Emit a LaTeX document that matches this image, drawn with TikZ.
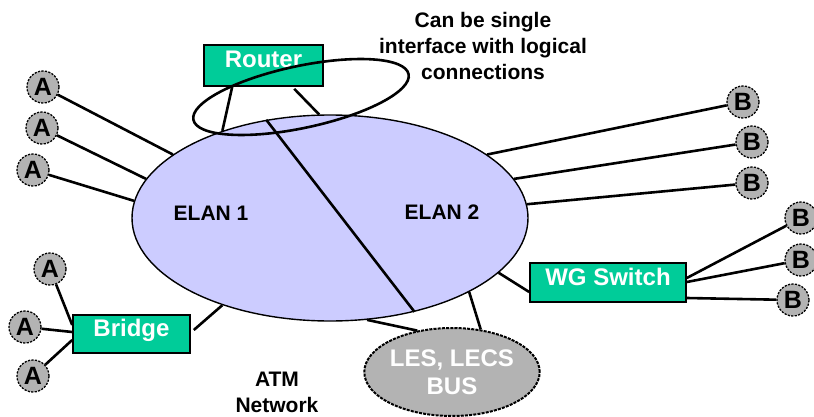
\documentclass[tikz,border=0pt]{standalone}
\usepackage{fontspec}
\setmainfont{Liberation Sans}
\usetikzlibrary{shapes.geometric,calc}
\definecolor{elanfill}{HTML}{CCCCFF}
\definecolor{boxgreen}{HTML}{00CC99}
\definecolor{hostgray}{HTML}{B3B3B3}
\begin{document}
\begin{tikzpicture}[x=1pt,y=-1pt,
  host/.style={circle, draw=black, fill=hostgray, line width=1.3pt,
    dash pattern=on 2.2pt off 1.3pt, minimum size=32pt, inner sep=0pt,
    font=\fontsize{25}{25}\selectfont\bfseries},
  device/.style={rectangle, draw=black, fill=boxgreen, line width=1.6pt,
    inner sep=0pt, text=white, text depth=12pt,
    font=\fontsize{24}{24}\selectfont\bfseries},
  link/.style={line width=2.6pt, black},
  caption/.style={font=\fontsize{21}{26}\selectfont\bfseries, align=center}
]
\useasboundingbox (0,0) rectangle (814,417);

% the emulated LAN cloud, split into two ELANs
\node[ellipse, draw=black, fill=elanfill, line width=1.4pt, inner sep=0pt,
      minimum width=396pt, minimum height=206pt] (elan) at (330,218) {};
\draw[link] (elan.123.8) -- (elan.-48.6);
\node[caption] (elan1) at (211,213) {ELAN 1};
\node[caption] (elan2) at (442,212) {ELAN 2};

% router and its two logical attachments
\node[device, minimum width=119pt, minimum height=41pt] (router) at (263.5,65.5) {Router};
\draw[link] ($(router.south west)+(29,0)$) -- (elan.141.2);
\draw[link] ($(router.south west)+(91,2)$) -- (elan.96.1);
\node[ellipse, draw=black, line width=2.6pt, inner sep=0pt, rotate=12,
      minimum width=220pt, minimum height=62pt] (iface) at (301,97) {};
\node[caption] (note) at (483,46) {Can be single\\interface with logical\\connections};

% hosts of ELAN 1
\node[host] (a1) at (43,87) {A};
\node[host] (a2) at (42,128) {A};
\node[host] (a3) at (33,170) {A};
\draw[link] (a1) -- (elan.158.8);
\draw[link] (a2) -- (elan.168.8);
\draw[link] (a3) -- (elan.175.4);

% bridge with its hosts
\node[device, minimum width=117pt, minimum height=38pt] (bridge) at (131.5,334) {Bridge};
\node[host] (a4) at (50,269) {A};
\node[host] (a5) at (25,327) {A};
\node[host] (a6) at (33,376) {A};
\draw[link] (a4) -- ($(bridge.west)+(0,-9)$);
\draw[link] (a5) -- ($(bridge.west)+(0,-2)$);
\draw[link] (a6) -- ($(bridge.west)+(0,6)$);
\draw[link] ($(bridge.east)+(3,-4)$) -- (elan.219.8);

% hosts of ELAN 2
\node[host] (b1) at (743,102) {B};
\node[host] (b2) at (752,142) {B};
\node[host] (b3) at (752,183) {B};
\draw[link] (b1) -- (elan.22.6);
\draw[link] (b2) -- (elan.12.0);
\draw[link] (b3) -- (elan.4.4);

% workgroup switch with its hosts
\node[device, minimum width=156pt, minimum height=39pt] (switch) at (608,282.5) {WG Switch};
\node[host] (b4) at (801,218) {B};
\node[host] (b5) at (801,260) {B};
\node[host] (b6) at (793,300) {B};
\draw[link] ($(switch.west)+(0,9.5)$) -- (elan.-18.5);
\draw[link] ($(switch.east)+(0,-4.5)$) -- (b4);
\draw[link] ($(switch.east)+(0,-0.5)$) -- (b5);
\draw[link] ($(switch.east)+(0,15.5)$) -- (b6);

% LAN emulation servers
\node[ellipse, draw=black, fill=hostgray, line width=2pt,
      dash pattern=on 3pt off 1.2pt, inner sep=0pt, text=white, align=center,
      minimum width=142pt, minimum height=88pt,
      font=\fontsize{24}{28}\selectfont\bfseries] (les) at (452,372) {LES, LECS\\BUS};
\draw[link] (elan.-70.1) -- (les.130.9);
\draw[link] (elan.-28.4) -- (les.56.7);

\node[caption] (atm) at (277,392) {ATM\\Network};
\end{tikzpicture}
\end{document}
